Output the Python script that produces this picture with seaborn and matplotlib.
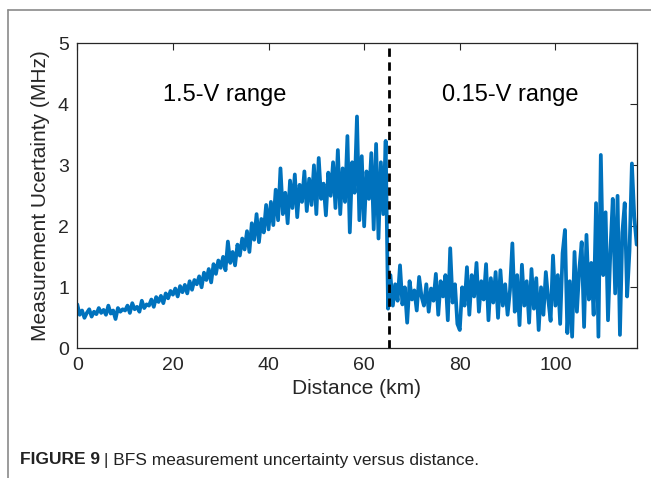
import numpy as np
import pandas as pd
import matplotlib
matplotlib.use('Agg')
import matplotlib.pyplot as plt
from matplotlib.lines import Line2D
import seaborn as sns

# BFS measurement uncertainty (MHz), one reading every 0.5 km
# 1.5-V range: 0 - 65 km
unc_high_range = [
    0.72, 0.55, 0.62, 0.50, 0.58, 0.64, 0.52, 0.60, 0.56, 0.66,
    0.58, 0.63, 0.55, 0.70, 0.57, 0.62, 0.48, 0.66, 0.60, 0.64,
    0.62, 0.70, 0.58, 0.74, 0.64, 0.68, 0.60, 0.78, 0.66, 0.72,
    0.70, 0.80, 0.68, 0.84, 0.76, 0.86, 0.74, 0.90, 0.82, 0.94,
    0.88, 0.98, 0.85, 1.02, 0.92, 1.04, 0.90, 1.10, 0.96, 1.12,
    1.05, 1.18, 1.00, 1.24, 1.12, 1.30, 1.08, 1.38, 1.22, 1.44,
    1.32, 1.50, 1.28, 1.75, 1.40, 1.58, 1.36, 1.70, 1.52, 1.80,
    1.62, 1.92, 1.58, 2.05, 1.78, 2.20, 1.74, 2.12, 1.90, 2.35,
    1.95, 2.40, 2.02, 2.60, 2.10, 2.95, 2.20, 2.55, 2.05, 2.75,
    2.30, 2.85, 2.15, 2.68, 2.40, 2.90, 2.25, 2.78, 2.35, 3.00,
    2.20, 3.12, 2.45, 2.70, 2.18, 2.88, 2.50, 3.05, 2.30, 3.25,
    2.20, 2.95, 2.40, 3.48, 1.90, 3.05, 2.55, 3.80, 2.10, 3.15,
    2.00, 2.90, 2.45, 3.20, 1.95, 3.35, 1.80, 3.05, 2.20, 3.40,
    0.65,
]
# 0.15-V range: 65.5 - 117 km
unc_low_range = [
    1.20, 0.70, 1.05, 0.78, 1.36, 0.72, 1.00, 0.42, 1.10,
    0.80, 0.95, 0.62, 1.17, 0.85, 0.70, 1.05, 0.60, 0.98, 0.78,
    1.22, 0.55, 1.10, 0.85, 1.20, 0.46, 1.64, 0.75, 1.05, 0.40,
    0.30, 1.00, 0.70, 1.33, 0.55, 1.20, 0.85, 1.40, 0.60, 1.10,
    0.80, 1.38, 0.46, 1.15, 0.75, 1.25, 0.50, 1.28, 0.70, 1.05,
    0.55, 0.95, 1.72, 0.60, 1.20, 0.38, 1.37, 0.70, 1.10, 0.42,
    1.30, 0.65, 1.15, 0.30, 1.00, 0.55, 1.25, 0.80, 0.45, 1.52,
    0.70, 1.20, 0.40, 1.56, 1.94, 0.25, 1.10, 0.19, 1.58, 0.60,
    1.30, 1.74, 0.35, 1.86, 0.80, 1.40, 0.55, 2.38, 0.19, 3.17,
    1.20, 2.23, 0.46, 1.60, 2.45, 0.90, 2.50, 0.22, 1.90, 2.38,
    0.85, 1.60, 3.03, 2.15, 1.70,
]
STEP_KM = 0.5
SWITCH_KM = 65.2
x_ticks = [0, 20, 40, 60, 80, 100]
y_ticks = [0, 1, 2, 3, 4, 5]

uncertainty = unc_high_range + unc_low_range
distance = np.arange(len(uncertainty)) * STEP_KM
df = pd.DataFrame({'distance': distance, 'uncertainty': uncertainty})

sns.set_theme(style='white')
plt.rcParams['font.family'] = ['Liberation Sans', 'DejaVu Sans']

fig = plt.figure(figsize=(6.51, 4.78), dpi=100)
ax = fig.add_axes([0.1187, 0.2713, 0.978 - 0.1187, 0.9094 - 0.2713])

sns.lineplot(data=df, x='distance', y='uncertainty', ax=ax, color='#0072BD',
             linewidth=2.7, estimator=None, sort=False)
ax.axvline(SWITCH_KM, color='black', linestyle=(0, (3, 2)), linewidth=2)

ax.set_xlim(0, 117)
ax.set_ylim(0, 5)
ax.set_xticks(x_ticks)
ax.set_yticks(y_ticks)
ax.tick_params(direction='in', length=5, width=0.8, colors='#262626',
               labelsize=14, top=True, right=True, labelcolor='#262626', pad=6)
for sp in ax.spines.values():
    sp.set_visible(True)
    sp.set_color('#262626')
    sp.set_linewidth(0.9)

ax.set_xlabel('Distance (km)', fontsize=15, color='#262626', labelpad=4)
ax.set_ylabel('Measurement Ucertainty (MHz)', fontsize=15, color='#262626', labelpad=6)

ax.text(30.8, 4.15, '1.5-V range', fontsize=17, ha='center', va='center', color='black')
ax.text(90.6, 4.15, '0.15-V range', fontsize=17, ha='center', va='center', color='black')

# page frame lines (left and top)
fig.add_artist(Line2D([8 / 651, 8 / 651], [0, 1 - 10 / 478], transform=fig.transFigure,
                      color='#8a8a8a', linewidth=1.2))
fig.add_artist(Line2D([8 / 651, 1], [1 - 10 / 478, 1 - 10 / 478], transform=fig.transFigure,
                      color='#8a8a8a', linewidth=1.2))

# caption
cap_y = 1 - 460 / 478
t1 = fig.text(20 / 651, cap_y, 'FIGURE 9', fontsize=12.5, fontweight='bold',
              ha='left', va='center', color='#222222')
fig.canvas.draw()
bb = t1.get_window_extent()
fig.text(bb.x1 / 651 + 0.006, cap_y, '| BFS measurement uncertainty versus distance.',
         fontsize=12.5, ha='left', va='center', color='#222222')

fig.savefig('out.png', dpi=100)
